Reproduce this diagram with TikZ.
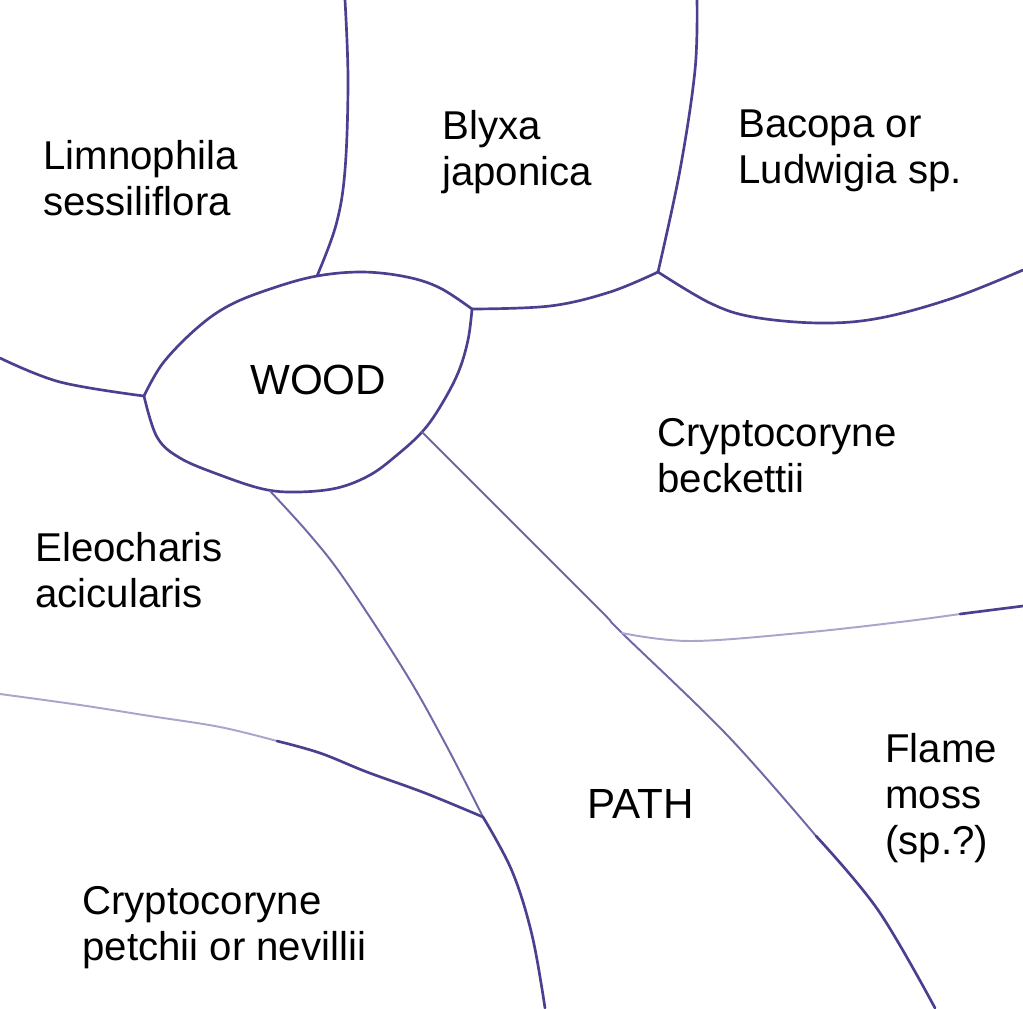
\documentclass[tikz,border=0pt]{standalone}
\usepackage{fontspec}
\setmainfont{Liberation Sans}
\definecolor{penink}{HTML}{4A4090}
\definecolor{penmid}{HTML}{6F69A8}
\definecolor{penpale}{HTML}{A9A6CE}
\tikzset{
    bedline/.style={penink, line width=1.9pt, line cap=round},
    midline/.style={penmid, line width=1.4pt, line cap=round},
    paleline/.style={penpale, line width=1.4pt, line cap=round},
    bedlabel/.style={align=left, anchor=west, inner sep=0pt, font=\fontsize{28.6}{32.8}\selectfont, text=black},
    capslabel/.style={bedlabel, font=\fontsize{30}{32.8}\selectfont}
}
\begin{document}
\begin{tikzpicture}[x=0.025cm, y=-0.025cm]
        \useasboundingbox (0,0) rectangle (1023,1008);

        % Draw wood outline
        \draw[bedline] plot[smooth, tension=0.6] coordinates {
            (144,396) (163,363) (197,328) (230,305) (273,288) (317,276) (363,272) (407,277) (440,288) (472,309)};
        \draw[bedline] plot[smooth, tension=0.6] coordinates {
            (472,309) (468,340) (458,373) (440,407) (422,432) (397,455) (370,475) (337,488) (297,492) (263,489) (220,475) (180,458) (157,437) (144,396)};

        % Draw upper bed borders
        \draw[bedline] plot[smooth, tension=0.6] coordinates {(345,0) (348,80) (345,170) (336,225) (317,276)};
        \draw[bedline] plot[smooth, tension=0.6] coordinates {(697,0) (695,70) (680,170) (658,272)};
        \draw[bedline] plot[smooth, tension=0.6] coordinates {(472,309) (550,306) (610,292) (658,272)};
        \draw[bedline] plot[smooth, tension=0.6] coordinates {(658,272) (710,303) (753,317) (820,323) (880,318) (953,298) (1023,270)};
        \draw[bedline] plot[smooth, tension=0.6] coordinates {(0,358) (60,382) (144,396)};

        % Draw path borders
        \draw[midline] plot[smooth, tension=0.6] coordinates {
            (422,432) (505,515) (601,611) (622,633) (728,736) (816,836)};
        \draw[bedline] plot[smooth, tension=0.6] coordinates {(816,836) (878,910) (935,1008)};
        \draw[midline] plot[smooth, tension=0.6] coordinates {
            (270,491) (310,535) (345,580) (405,672) (445,743) (483,817)};
        \draw[bedline] plot[smooth, tension=0.6] coordinates {(483,817) (512,871) (532,935) (545,1008)};

        % Draw lower bed borders
        \draw[paleline] plot[smooth, tension=0.6] coordinates {(622,633) (690,641) (800,633) (900,622) (960,614)};
        \draw[bedline] (960,614) -- (1023,606);
        \draw[paleline] plot[smooth, tension=0.6] coordinates {(0,694) (80,705) (150,716) (220,727) (277,741)};
        \draw[bedline] plot[smooth, tension=0.6] coordinates {(277,741) (320,753) (367,772) (425,793) (483,817)};

        % Place labels
        \node[bedlabel] (limnophila) at (43,178) {Limnophila\\sessiliflora};
        \node[bedlabel] (blyxa) at (442,152) {Blyxa\\japonica};
        \node[bedlabel] (bacopa) at (738,151) {Bacopa or\\Ludwigia sp.};
        \node[capslabel] (wood) at (250,380) {WOOD};
        \node[bedlabel] (beckettii) at (657,456) {Cryptocoryne\\beckettii};
        \node[bedlabel] (eleocharis) at (35,570) {Eleocharis\\acicularis};
        \node[capslabel] (path) at (587,804) {PATH};
        \node[bedlabel] (flame) at (885,798) {Flame\\moss\\(sp.?)};
        \node[bedlabel] (petchii) at (82,928) {Cryptocoryne\\petchii or nevillii};
    \end{tikzpicture}
\end{document}
